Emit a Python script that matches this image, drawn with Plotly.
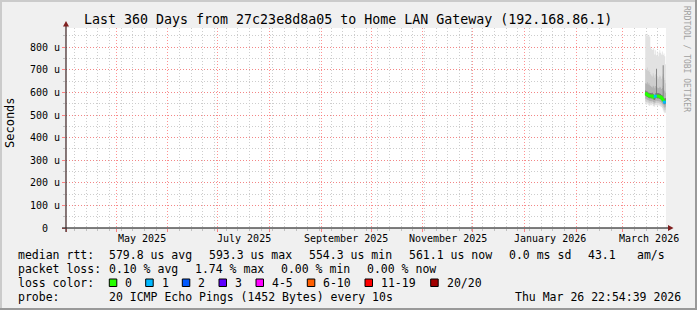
import plotly.graph_objects as go

# ---------------- data ----------------
title_text = "Last 360 Days from 27c23e8d8a05 to Home LAN Gateway (192.168.86.1)"
range_start = "2025-03-31 22:54:39"
range_end = "2026-03-26 22:54:39"

times = [
    "2026-03-14 12:00", "2026-03-15 00:00", "2026-03-15 12:00", "2026-03-16 00:00",
    "2026-03-16 12:00", "2026-03-17 00:00", "2026-03-17 12:00", "2026-03-18 00:00",
    "2026-03-18 12:00", "2026-03-19 00:00", "2026-03-19 12:00", "2026-03-20 00:00",
    "2026-03-20 12:00", "2026-03-21 00:00", "2026-03-21 12:00", "2026-03-22 00:00",
    "2026-03-22 12:00", "2026-03-23 00:00", "2026-03-23 12:00", "2026-03-24 00:00",
    "2026-03-24 12:00", "2026-03-25 00:00", "2026-03-25 12:00", "2026-03-26 00:00",
    "2026-03-26 12:00", "2026-03-26 22:00",
]
# round-trip times in microseconds
rtt_max = [858, 852, 860, 848, 853, 846, 802, 792, 788, 796, 790, 768, 786,
           764, 781, 760, 776, 786, 775, 768, 781, 765, 772, 760, 725, 705]
rtt_p90 = [705, 700, 710, 695, 700, 690, 680, 675, 670, 685, 675, 665, 680,
           670, 672, 660, 668, 675, 670, 660, 672, 680, 665, 655, 640, 630]
rtt_p75 = [640, 638, 645, 635, 640, 632, 628, 625, 622, 630, 626, 618, 628,
           625, 622, 618, 620, 625, 622, 615, 620, 630, 612, 605, 598, 595]
rtt_p60 = [608, 605, 604, 600, 598, 596, 597, 596, 598, 594, 590, 588, 596,
           705, 596, 597, 595, 595, 593, 589, 586, 720, 575, 572, 575, 576]
rtt_p40 = [585, 582, 580, 578, 575, 573, 574, 573, 575, 570, 568, 566, 573,
           575, 573, 574, 572, 572, 570, 566, 562, 556, 550, 547, 551, 552]
rtt_p25 = [572, 570, 568, 566, 563, 561, 562, 561, 563, 558, 556, 554, 561,
           563, 561, 562, 560, 560, 558, 554, 550, 544, 536, 532, 536, 538]
rtt_p10 = [560, 558, 560, 556, 553, 551, 555, 553, 556, 550, 548, 546, 553,
           554, 552, 553, 552, 550, 548, 545, 540, 533, 524, 520, 523, 525]
rtt_min = [548, 545, 550, 545, 542, 540, 545, 543, 548, 540, 538, 537, 545,
           543, 540, 542, 545, 540, 538, 535, 530, 520, 512, 508, 510, 512]
rtt_median = [596, 593, 590, 588, 585, 583, 584, 583, 585, 580, 577, 575, 583,
              585, 583, 584, 582, 582, 580, 576, 572, 566, 560, 557, 561, 562]
loss_count = [0, 0, 0, 0, 0, 0, 0, 0, 0, 0, 0, 0, 1,
              0, 0, 0, 0, 0, 0, 0, 0, 0, 0, 1, 0, 0]

y_tick_vals = [0, 100, 200, 300, 400, 500, 600, 700, 800]
y_tick_text = ["0\u00a0\u00a0", "100 u", "200 u", "300 u", "400 u",
               "500 u", "600 u", "700 u", "800 u"]
month_label_dates = ["2025-05-16 12:00", "2025-07-16 12:00", "2025-09-16 00:00",
                     "2025-11-16 00:00", "2026-01-16 12:00", "2026-03-16 12:00"]
month_label_text = ["May 2025", "July 2025", "September 2025",
                    "November 2025", "January 2026", "March 2026"]

loss_labels = ["0", "1", "2", "3", "4-5", "6-10", "11-19", "20/20"]
loss_colors = ["#26ff00", "#00b8ff", "#0059ff", "#5e00ff",
               "#ff00ff", "#ff5e00", "#ff0000", "#a10000"]

row_median = [("median rtt:", 16), ("579.8 us avg", 107.3), ("593.3 us max", 207.3),
              ("554.3 us min", 306.7), ("561.1 us now", 406.7), ("0.0 ms sd", 506.7),
              ("43.1", 586), ("am/s", 635)]
row_loss = [("packet loss:", 16), ("0.10 % avg", 107.3), ("1.74 % max", 193.3),
            ("0.00 % min", 279.3), ("0.00 % now", 365)]
row_probe = [("probe:", 16), ("20 ICMP Echo Pings (1452 Bytes) every 10s", 107.3),
             ("Thu Mar 26 22:54:39 2026", 513.3)]
loss_box_x = [109.3, 145.7, 182.3, 219.0, 256.0, 307.3, 365.0, 430.7]

# ---------------- layout geometry ----------------
W, H = 697, 310
L, R, T, B = 66, 31, 28, 82
PW, PH = W - L - R, H - T - B
BASE = H - B


def px(x):
    return (x - L) / PW


def py(y):
    return (BASE - y) / PH


MONO = "DejaVu Sans Mono"
fig = go.Figure()

# smoke bands (lower, upper, color)
bands = [
    (rtt_min, rtt_max, "#e2e2e2"),
    (rtt_p10, rtt_p90, "#cecece"),
    (rtt_p25, rtt_p75, "#b2b2b2"),
    (rtt_p40, rtt_p60, "#747474"),
]
for lo, hi, col in bands:
    fig.add_trace(go.Scatter(x=times, y=lo, mode="lines", line=dict(width=0, shape="hv"),
                             showlegend=False, hoverinfo="skip"))
    fig.add_trace(go.Scatter(x=times, y=hi, mode="lines", line=dict(width=0, shape="hv"),
                             fill="tonexty", fillcolor=col, showlegend=False, hoverinfo="skip"))

# median line coloured by loss
loss_class = [0 if c == 0 else 1 if c == 1 else 2 if c == 2 else 3 if c == 3 else
              4 if c <= 5 else 5 if c <= 10 else 6 if c <= 19 else 7 for c in loss_count]
fig.add_trace(go.Scatter(x=times, y=[m if k == 0 else None for m, k in zip(rtt_median, loss_class)],
                         mode="lines", line=dict(width=2.5, color=loss_colors[0], shape="hv"),
                         showlegend=False, hoverinfo="skip", connectgaps=False))
for k in range(1, len(loss_colors)):
    ys = [m if c == k else None for m, c in zip(rtt_median, loss_class)]
    if any(v is not None for v in ys):
        fig.add_trace(go.Scatter(x=times, y=ys, mode="markers",
                                 marker=dict(symbol="square", size=3, color=loss_colors[k]),
                                 showlegend=False, hoverinfo="skip"))

grid_red = "rgba(255,110,110,0.75)"
grid_gray = "#cdcdcd"
dash = "1px,2px"

fig.update_layout(
    width=W, height=H, margin=dict(l=L, r=R, t=T, b=B),
    paper_bgcolor="#f0f0f0", plot_bgcolor="#ffffff",
    showlegend=False,
    xaxis=dict(type="date", range=[range_start, range_end], tick0="2025-05-01", dtick="M1",
               showgrid=True, gridcolor=grid_red, griddash=dash, gridwidth=1,
               ticks="outside", ticklen=3, tickcolor="#ff8080", showticklabels=False,
               minor=dict(tick0="2025-04-06", dtick=7 * 86400000, showgrid=True,
                          gridcolor=grid_gray, griddash=dash, ticks="outside", ticklen=2,
                          tickcolor="#c0c0c0"),
               showline=False, zeroline=False, fixedrange=True),
    yaxis=dict(range=[0, 885], tickvals=y_tick_vals, ticktext=y_tick_text,
               showgrid=True, gridcolor=grid_red, griddash=dash, gridwidth=1,
               ticks="outside", ticklen=3, tickcolor="#ff8080",
               tickfont=dict(family=MONO, size=10, color="#000000"),
               minor=dict(tick0=0, dtick=50, showgrid=True, gridcolor=grid_gray,
                          griddash=dash, ticks="outside", ticklen=2, tickcolor="#c0c0c0"),
               showline=False, zeroline=False, fixedrange=True),
)

shapes = []
# frame (3D border)
shapes.append(dict(type="rect", xref="paper", yref="paper", x0=px(0), x1=px(2), y0=py(0), y1=py(H),
                   fillcolor="#cbcbcb", line=dict(width=0), layer="above"))
shapes.append(dict(type="rect", xref="paper", yref="paper", x0=px(0), x1=px(W), y0=py(0), y1=py(2),
                   fillcolor="#cbcbcb", line=dict(width=0), layer="above"))
shapes.append(dict(type="rect", xref="paper", yref="paper", x0=px(W - 2), x1=px(W), y0=py(0), y1=py(H),
                   fillcolor="#999999", line=dict(width=0), layer="above"))
shapes.append(dict(type="rect", xref="paper", yref="paper", x0=px(0), x1=px(W), y0=py(H - 2), y1=py(H),
                   fillcolor="#999999", line=dict(width=0), layer="above"))
# axes lines
shapes.append(dict(type="line", xref="paper", yref="paper", x0=px(62), x1=px(669), y0=0, y1=0,
                   line=dict(color="#000000", width=1.2), layer="above"))
shapes.append(dict(type="line", xref="paper", yref="paper", x0=0, x1=0, y0=py(232), y1=py(24),
                   line=dict(color="#3a2020", width=1.2), layer="above"))
# arrows
shapes.append(dict(type="path", xref="paper", yref="paper",
                   path=f"M {px(63)} {py(26.5)} L {px(69)} {py(26.5)} L {px(66)} {py(21)} Z",
                   fillcolor="#7f1f1f", line=dict(width=0), layer="above"))
shapes.append(dict(type="path", xref="paper", yref="paper",
                   path=f"M {px(668)} {py(225)} L {px(668)} {py(231)} L {px(673.5)} {py(228)} Z",
                   fillcolor="#7f1f1f", line=dict(width=0), layer="above"))
# loss colour boxes
for bx, col in zip(loss_box_x, loss_colors):
    shapes.append(dict(type="rect", xref="paper", yref="paper", x0=px(bx), x1=px(bx + 7.5),
                       y0=py(286.5), y1=py(279), fillcolor=col,
                       line=dict(color="#000000", width=1), layer="above"))
fig.update_layout(shapes=shapes)

ann = []
ann.append(dict(text=title_text, xref="paper", yref="paper", x=px(348), y=py(19),
                xanchor="center", yanchor="middle", showarrow=False,
                font=dict(family=MONO, size=13.3, color="#000000")))
ann.append(dict(text="Seconds", xref="paper", yref="paper", x=px(10), y=py(123),
                xanchor="center", yanchor="middle", textangle=-90, showarrow=False,
                font=dict(family=MONO, size=12, color="#000000")))
ann.append(dict(text="RRDTOOL / TOBI OETIKER", xref="paper", yref="paper", x=px(687), y=py(59),
                xanchor="center", yanchor="middle", textangle=90, showarrow=False,
                font=dict(family=MONO, size=8, color="#a0a0a0")))
for d, t in zip(month_label_dates, month_label_text):
    ann.append(dict(text=t, xref="x", yref="paper", x=d, y=py(238),
                    xanchor="center", yanchor="middle", showarrow=False,
                    font=dict(family=MONO, size=10, color="#000000")))


def add_row(items, yc):
    for t, x in items:
        ann.append(dict(text=t, xref="paper", yref="paper", x=px(x), y=py(yc),
                        xanchor="left", yanchor="middle", showarrow=False,
                        font=dict(family=MONO, size=11.5, color="#000000")))


add_row(row_median, 254.5)
add_row(row_loss, 268.5)
add_row([("loss color:", 16)] + [(lab, bx + 14) for lab, bx in zip(loss_labels, loss_box_x)], 282.5)
add_row(row_probe, 296.5)
fig.update_layout(annotations=ann)

fig.write_html("out.html", config=dict(displayModeBar=False))
